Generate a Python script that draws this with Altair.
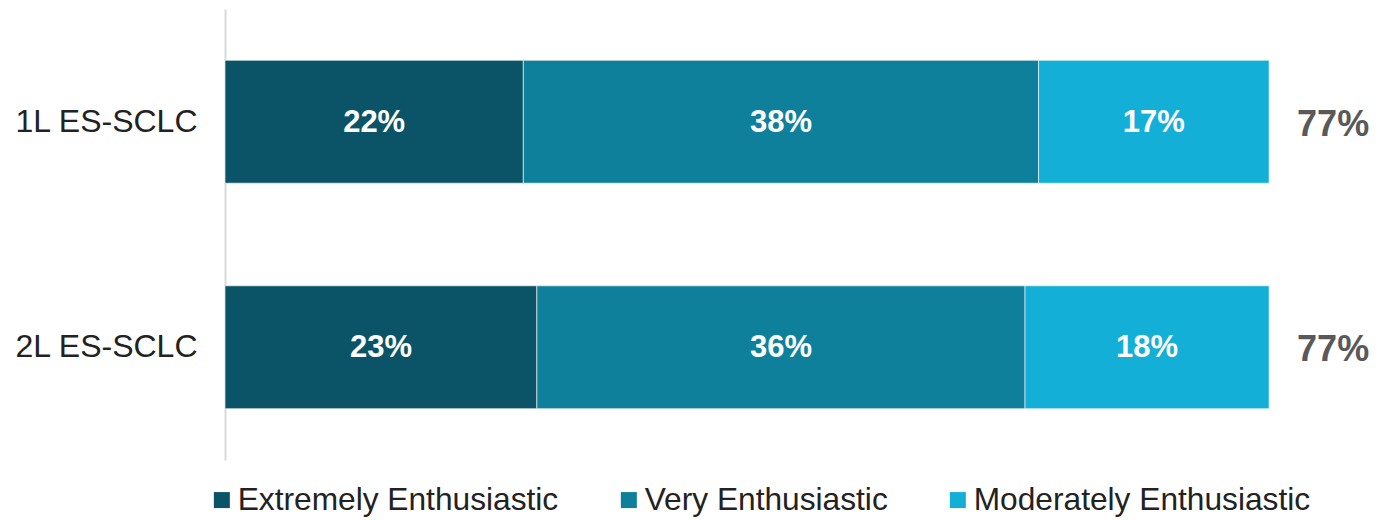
import altair as alt
import pandas as pd

categories = ["1L ES-SCLC", "2L ES-SCLC"]
levels = ["Extremely Enthusiastic", "Very Enthusiastic", "Moderately Enthusiastic"]
extremely = [22, 23]
very = [38, 36]
moderately = [17, 18]
totals = [77, 77]
colors = ["#0B5366", "#0F809B", "#13AFD6"]

rows = []
for i, c in enumerate(categories):
    for j, (lvl, vals) in enumerate(zip(levels, [extremely, very, moderately])):
        rows.append({"category": c, "level": lvl, "order": j, "value": vals[i],
                     "label": f"{vals[i]}%"})
df = pd.DataFrame(rows)
tot_df = pd.DataFrame({"category": categories, "total": totals,
                       "label": [f"{t}%" for t in totals]})

FONT = "Liberation Sans"
xscale = alt.Scale(domain=[0, 84], nice=False, zero=True)
yenc = alt.Y("category:N", sort=categories,
             scale=alt.Scale(paddingInner=0.455, paddingOuter=0.2275),
             axis=alt.Axis(title=None, domain=True, domainColor="#d9d9d9",
                           domainWidth=2, ticks=False, tickSize=0, grid=False,
                           labelAlign="left", labelPadding=210, labelFontSize=32,
                           labelFont=FONT, labelColor="#222222",
                           labelBaseline="middle", labelLimit=0))

base = alt.Chart(df).transform_stack(
    stack="value", groupby=["category"], as_=["x0", "x1"],
    sort=[alt.SortField("order", order="ascending")]
)

bars = base.mark_bar(stroke="#ffffff", strokeWidth=1, strokeOpacity=0.6).encode(
    x=alt.X("x0:Q", scale=xscale, axis=None),
    x2="x1:Q",
    y=yenc,
    color=alt.Color("level:N", scale=alt.Scale(domain=levels, range=colors),
                    legend=alt.Legend(title=None, orient="none", legendX=-19,
                                      legendY=475, direction="horizontal",
                                      symbolType="square", symbolSize=256,
                                      symbolStrokeWidth=0, labelFontSize=31.7,
                                      labelFont=FONT, labelColor="#222222",
                                      labelOffset=0, columnPadding=54,
                                      labelLimit=0, padding=0)),
)

inner = base.transform_calculate(mid="(datum.x0 + datum.x1) / 2").mark_text(
    color="#ffffff", fontWeight="bold", fontSize=31, font=FONT,
    baseline="middle", align="center", dy=1
).encode(
    x=alt.X("mid:Q", scale=xscale, axis=None),
    y=alt.Y("category:N", sort=categories),
    text="label:N",
)

tot = alt.Chart(tot_df).mark_text(
    color="#595959", fontWeight="bold", fontSize=36, font=FONT,
    baseline="middle", align="left", dx=28, dy=3
).encode(
    x=alt.X("total:Q", scale=xscale, axis=None),
    y=alt.Y("category:N", sort=categories),
    text="label:N",
)

chart = alt.layer(bars, inner, tot).properties(
    width=1139, height=451,
    autosize=alt.AutoSizeParams(type="none"),
    padding={"left": 217, "top": 1, "right": 12, "bottom": 58},
).configure(background="#ffffff").configure_view(strokeWidth=0, stroke=None)

chart.save("out.html", embed_options={"renderer": "svg", "actions": False})
